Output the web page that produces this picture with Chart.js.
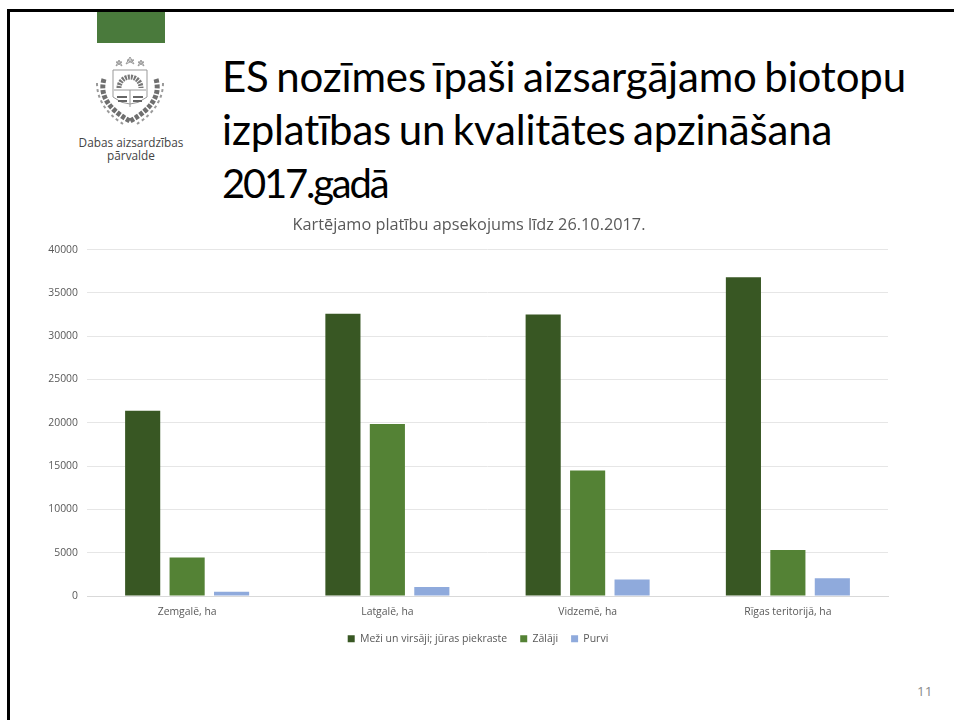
<!DOCTYPE html>
<html>
<head>
<meta charset="utf-8">
<title>ES nozīmes īpaši aizsargājamo biotopu izplatība</title>
<script src="https://cdn.jsdelivr.net/npm/chart.js@4/dist/chart.umd.min.js"></script>
<style>
  html, body { margin: 0; padding: 0; background: #fff; }
  body { width: 954px; height: 720px; position: relative; overflow: hidden; }
  .frame { position: absolute; left: 7px; top: 9px; width: 960px; height: 730px; border: 3px solid #000; box-sizing: border-box; }
  .tab { position: absolute; left: 97px; top: 12px; width: 68px; height: 31px; background: #4a7a3c; }
  .logo { position: absolute; left: 92px; top: 55px; }
  .org { position: absolute; left: 60px; top: 136px; width: 142px; text-align: center; font: 11.8px/13px "Open Sans", sans-serif; color: #444; }
  h1 { position: absolute; left: 222px; top: 50px; margin: 0; width: 725px; font: 400 42px/53px Lato, sans-serif; color: #000; letter-spacing: -0.17px; word-spacing: -3px; }
  h1 span { font-size: 40px; letter-spacing: -2.2px; }
  .page { position: absolute; left: 917px; top: 682px; font: 13.5px "Open Sans", sans-serif; color: #8b8b8b; }
  .wrap { position: absolute; left: 10px; top: 212px; width: 944px; height: 450px; }
</style>
</head>
<body>
<div class="frame"></div>
<div class="tab"></div>
<svg class="logo" width="76" height="72" viewBox="0 0 76 72">
  <g fill="none" stroke="#999" stroke-width="1">
    <path d="M24 11 l3 -6 l3 6 l-6 -4 h6 z M34 9 l4 -7 l4 7 l-7 -4 h7 z M46 11 l3 -6 l3 6 l-6 -4 h6 z"/>
    <path d="M21 15 h34 v27 q-17 14 -34 0 z"/>
    <path d="M22 35 h32 M38 35 v17"/>
  </g>
  <path d="M27 33 a11 11 0 0 1 22 0" fill="none" stroke="#777" stroke-width="5" stroke-dasharray="2 1"/>
  <path d="M25 42 h10 M41 42 h10 M26 46 h9 M41 46 h9" stroke="#666" stroke-width="2"/>
  <g fill="none" stroke="#6f6f6f" stroke-width="5" stroke-dasharray="4 1.5">
    <path d="M12 24 q-7 24 26 42"/>
    <path d="M64 24 q7 24 -26 42"/>
  </g>
  <g fill="none" stroke="#9a9a9a" stroke-width="2" stroke-dasharray="3 3">
    <path d="M5 28 q0 24 26 41"/>
    <path d="M71 28 q0 24 -26 41"/>
  </g>
</svg>
<div class="org">Dabas aizsardzības<br>pārvalde</div>
<h1>ES nozīmes īpaši aizsargājamo biotopu<br>izplatības un kvalitātes apzināšana<br><span>2017.gadā</span></h1>
<div class="wrap"><canvas id="biotopi" width="944" height="450"></canvas></div>
<div class="page">11</div>

<script>
var categories = ['Zemgalē, ha', 'Latgalē, ha', 'Vidzemē, ha', 'Rīgas teritorijā, ha'];
var meziValues = [21400, 32600, 32500, 36800];
var zalajiValues = [4450, 19850, 14500, 5300];
var purviValues = [500, 1050, 1900, 2050];
var tickLabels = [0, 5000, 10000, 15000, 20000, 25000, 30000, 35000, 40000];

var textGrey = '#595959';
var fontName = '"Open Sans", sans-serif';

// title and legend sit off centre in the original
var nudgeBoxes = {
    id: 'nudgeBoxes',
    afterLayout: function (chart) {
        chart.titleBlock.left += 20;
        chart.titleBlock.right += 20;
        chart.legend.left += 29;
        chart.legend.right += 29;
    }
};

new Chart('biotopi', {
    type: 'bar',
    plugins: [nudgeBoxes],
    data: {
        labels: categories,
        datasets: [
            { label: 'Meži un virsāji; jūras piekraste', data: meziValues, backgroundColor: '#385723' },
            { label: 'Zālāji', data: zalajiValues, backgroundColor: '#548235' },
            { label: 'Purvi', data: purviValues, backgroundColor: '#8faadc' }
        ]
    },
    options: {
        responsive: false,
        animation: false,
        categoryPercentage: 0.666,
        barPercentage: 0.79,
        layout: { padding: { left: 0, right: 66, top: 0, bottom: 8 } },
        plugins: {
            title: {
                display: true,
                text: 'Kartējamo platību apsekojums līdz 26.10.2017.',
                color: textGrey,
                font: { family: fontName, size: 16.3, weight: 'normal' },
                padding: { top: 4, bottom: 14 }
            },
            legend: {
                position: 'bottom',
                labels: {
                    boxWidth: 7,
                    boxHeight: 7,
                    color: textGrey,
                    font: { family: fontName, size: 10.5 },
                    padding: 13
                }
            },
            tooltip: { enabled: false }
        },
        scales: {
            x: {
                grid: { display: false },
                border: { color: '#d9d9d9' },
                ticks: { color: textGrey, font: { family: fontName, size: 10.4 }, padding: 2 }
            },
            y: {
                min: 0,
                max: 40000,
                afterFit: function (scale) { scale.width = 77; },
                afterBuildTicks: function (scale) {
                    scale.ticks = tickLabels.map(function (v) { return { value: v }; });
                },
                grid: { color: '#e6e6e6', drawTicks: false },
                border: { display: false },
                ticks: {
                    color: textGrey,
                    font: { family: fontName, size: 10.4 },
                    padding: 9,
                    callback: function (v) { return String(v); }
                }
            }
        }
    }
});
</script>
</body>
</html>
